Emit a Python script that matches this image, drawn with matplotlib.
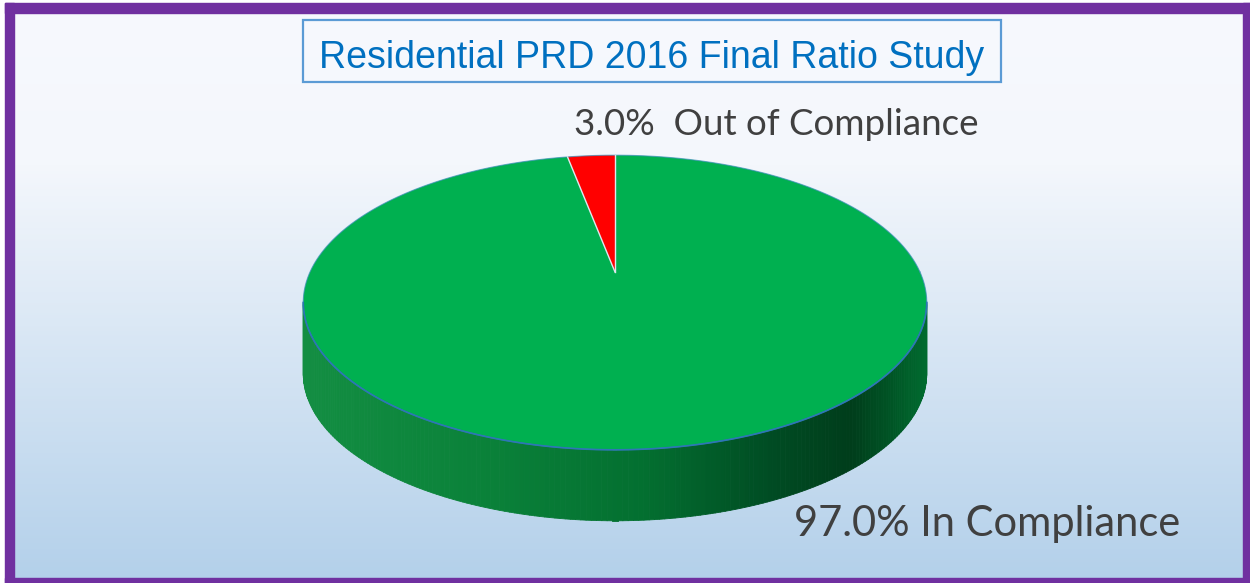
import numpy as np
import matplotlib.pyplot as plt
from matplotlib.patches import Rectangle, Polygon
from matplotlib.colors import LinearSegmentedColormap

# data
labels = ['Out of Compliance', 'In Compliance']
values = [3.0, 97.0]
colors = ['#FF0000', '#00B050']
title = 'Residential PRD 2016 Final Ratio Study'

W, H = 1250, 583
fig = plt.figure(figsize=(W / 100, H / 100), dpi=100)
ax = fig.add_axes([0, 0, 1, 1])
ax.set_xlim(0, W)
ax.set_ylim(H, 0)
ax.axis('off')

# background gradient (white-ish top to light blue bottom)
bg = LinearSegmentedColormap.from_list('bg', [(0, '#F7F9FE'), (0.28, '#F4F7FC'), (1, '#B3D0EA')])
grad = np.linspace(0, 1, 300).reshape(-1, 1)
ax.imshow(grad, cmap=bg, extent=[0, W, H, 0], aspect='auto', zorder=0)

# purple frame
purple = '#7030A0'
ax.add_patch(Rectangle((0, 0), W, 3, color='white', zorder=1))
ax.add_patch(Rectangle((0, 0), 5, H, color='white', zorder=1))
ax.add_patch(Rectangle((5, 3), 9, H, color=purple, zorder=1))
ax.add_patch(Rectangle((5, 3), W, 10, color=purple, zorder=1))
ax.add_patch(Rectangle((1243, 3), 10, H, color=purple, zorder=1))
ax.add_patch(Rectangle((5, 578), W, 10, color=purple, zorder=1))

# 3d pie with a simple perspective projection
cx, cy = 615, 272
a, b, k = 305, 141, 0.207
depth = 71


def proj(t):
    x, y = np.cos(t), np.sin(t)
    return cx + a * x / (1 + k * y), cy - b * y / (1 + k * y)


# side of the cylinder (front part only)
tl = np.pi + np.arcsin(k)
tr = 2 * np.pi - np.arcsin(k)
ts = np.linspace(tl, tr, 200)
side_cmap = LinearSegmentedColormap.from_list('side', [
    (0, '#138E42'), (0.3, '#0A8139'), (0.55, '#036F30'),
    (0.75, '#004C23'), (0.88, '#003D1B'), (1, '#006A2E')])
xs, ys = proj(ts)
xmin, xmax = xs.min(), xs.max()
for i in range(len(ts) - 1):
    x0, y0 = xs[i], ys[i]
    x1, y1 = xs[i + 1], ys[i + 1]
    c = side_cmap(((x0 + x1) / 2 - xmin) / (xmax - xmin))
    ax.add_patch(Polygon([(x0, y0), (x1, y1), (x1, y1 + depth), (x0, y0 + depth)],
                         closed=True, facecolor=c, edgecolor=c, lw=0.6,
                         joinstyle='round', zorder=2))

# top face wedges
start = np.pi / 2
total = sum(values)
for v, col in zip(values, colors):
    end = start + 2 * np.pi * v / total
    tt = np.linspace(start, end, max(int(v * 4), 10))
    px, py = proj(tt)
    pts = [(cx, cy)] + list(zip(px, py))
    ax.add_patch(Polygon(pts, closed=True, facecolor=col, edgecolor='none', zorder=3))
    start = end

# edges
tt = np.linspace(0, 2 * np.pi, 400)
px, py = proj(tt)
ax.plot(px, py, color='#3A8FB7', lw=0.8, alpha=0.7, zorder=4)
ax.plot(xs, ys, color='#2E75B6', lw=1.2, zorder=4)
ang = [np.pi / 2, np.pi / 2 + 2 * np.pi * values[0] / total]
for t in ang:
    ex, ey = proj(t)
    ax.plot([cx, ex], [cy, ey], color='#E0E6EE', lw=1.0, zorder=4)

# title in a box
ax.add_patch(Rectangle((303, 20), 698, 62, facecolor='none', edgecolor='#5B9BD5', lw=1.6, zorder=5))
ax.text(652, 68, title, ha='center', va='baseline', fontsize=27, color='#0070C0',
        family=['Liberation Sans', 'DejaVu Sans'], zorder=6)

# data labels
ax.text(574, 135, '%.1f%%  %s' % (values[0], labels[0]), ha='left', va='baseline',
        fontsize=26.5, color='#404040', family=['Lato', 'DejaVu Sans'], zorder=6)
ax.text(794, 536, '%.1f%% %s' % (values[1], labels[1]), ha='left', va='baseline',
        fontsize=30, color='#404040', family=['Lato', 'DejaVu Sans'], zorder=6)

fig.savefig('out.png', dpi=100)
